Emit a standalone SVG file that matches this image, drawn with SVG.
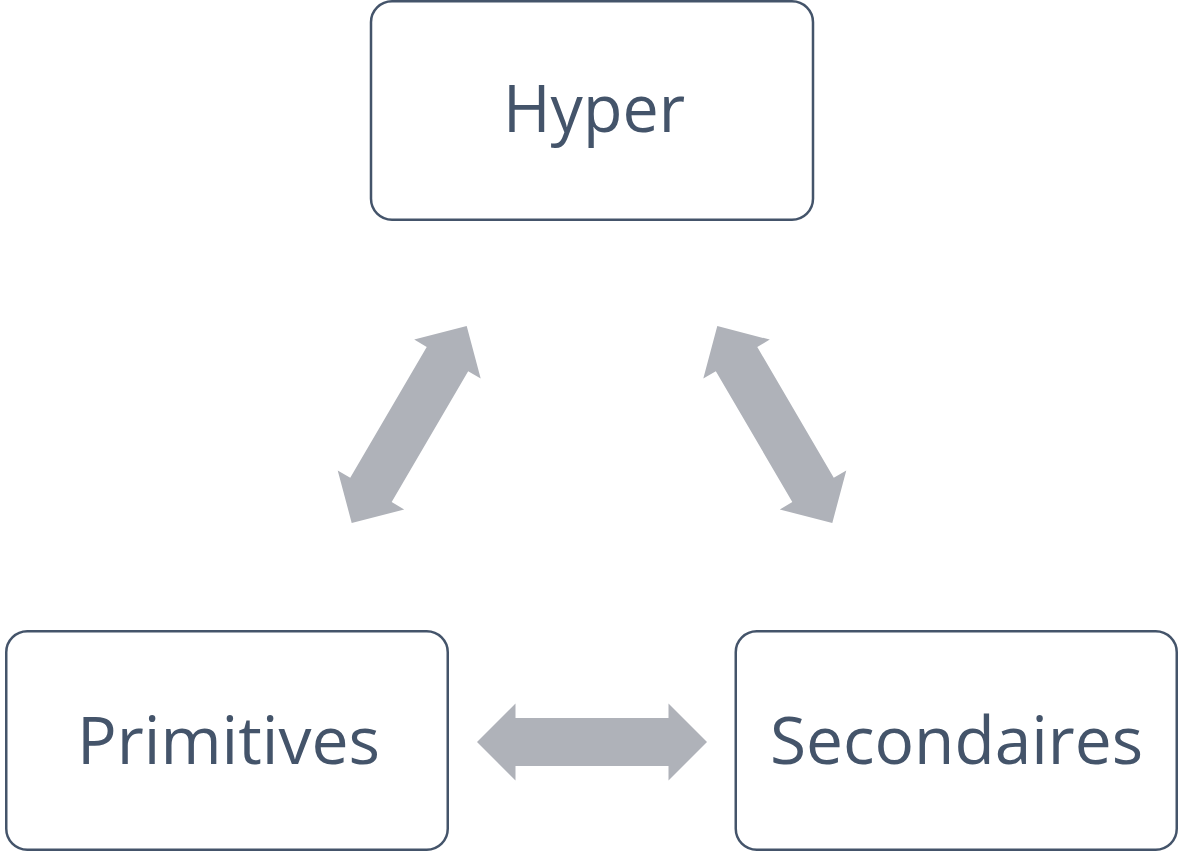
<svg xmlns="http://www.w3.org/2000/svg" xmlns:xlink="http://www.w3.org/1999/xlink" width="1179" height="851" viewBox="0 0 1179 851">
  <style>
    .box { fill: #ffffff; stroke: #44546a; stroke-width: 2.5; }
    .label { font-family: "Open Sans", "Liberation Sans", sans-serif; font-size: 66px; fill: #44546a; text-anchor: middle; }
    .dbl { fill: #afb2b9; }
  </style>
  <defs>
    <!-- double-headed block arrow, centred on the origin, pointing along x -->
    <path id="dblArrow" d="M -115,0 L -76.5,-38.5 L -76.5,-24 L 76.5,-24 L 76.5,-38.5 L 115,0 L 76.5,38.5 L 76.5,24 L -76.5,24 L -76.5,38.5 Z"/>
  </defs>
  <rect width="1179" height="851" fill="#ffffff"/>

  <g id="connectors">
    <use xlink:href="#dblArrow" class="dbl" transform="translate(409.2,424.5) rotate(-59.7) scale(0.991,1)"/>
    <use xlink:href="#dblArrow" class="dbl" transform="translate(774.8,424.5) rotate(59.7) scale(0.991,1)"/>
    <use xlink:href="#dblArrow" class="dbl" transform="translate(592,742)"/>
  </g>

  <g id="node-hyper">
    <rect class="box" x="371" y="1.25" width="442" height="218.5" rx="21" ry="21"/>
    <text class="label" x="594" y="132" textLength="182" lengthAdjust="spacingAndGlyphs">Hyper</text>
  </g>

  <g id="node-primitives">
    <rect class="box" x="6.25" y="631.25" width="441.5" height="218.5" rx="21" ry="21"/>
    <text class="label" x="228.5" y="764" textLength="303" lengthAdjust="spacingAndGlyphs">Primitives</text>
  </g>

  <g id="node-secondaires">
    <rect class="box" x="735.75" y="631.25" width="441" height="218.5" rx="21" ry="21"/>
    <text class="label" x="956.5" y="764" textLength="373" lengthAdjust="spacingAndGlyphs">Secondaires</text>
  </g>
</svg>
